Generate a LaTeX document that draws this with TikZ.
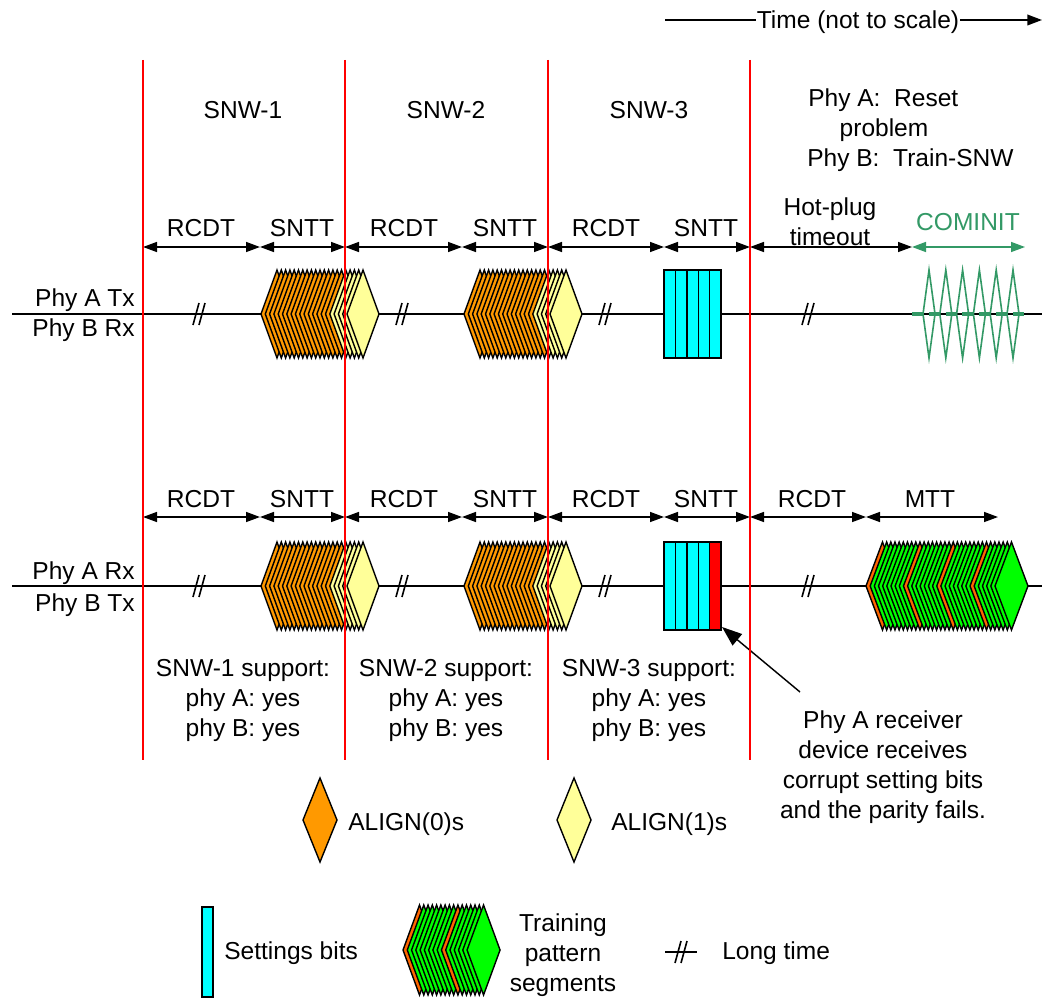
\documentclass[tikz,border=0pt]{standalone}
\usepackage{fontspec}
\setmainfont{Liberation Sans}
\usetikzlibrary{arrows.meta}
\definecolor{algo}{RGB}{255,153,0}
\definecolor{aly}{RGB}{255,255,153}
\definecolor{cinit}{RGB}{51,153,102}
\definecolor{trorange}{RGB}{255,102,0}
\definecolor{trgreen}{RGB}{0,255,0}
\definecolor{setcyan}{RGB}{0,255,255}
\newcommand{\dmd}[5]{\filldraw[shp,fill=#5] (#1,#2) -- ++(#3,-#4) -- ++(#3,#4) -- ++(-#3,#4) -- cycle;}
\newcommand{\alstack}[2]{%
  \foreach \i in {0,...,15}{\dmd{#1+4.3*\i}{#2}{16}{44}{algo}}
  \foreach \i in {16,...,20}{\dmd{#1+4.3*\i}{#2}{16}{44}{aly}}}
\newcommand{\trstack}[5]{%
  \foreach \i in {0,...,#3}{%
    \pgfmathtruncatemacro\isor{(\i==0)||(\i==9)||(\i==17)||(\i==25)}%
    \ifnum\isor=1 \def\cc{trorange}\else\def\cc{trgreen}\fi
    \dmd{#1+#4*\i}{#2}{16.5}{#5}{\cc}}}
\newcommand{\longtime}[2]{\draw[base] (#1-6,#2+11) -- (#1,#2-11); \draw[base] (#1,#2+11) -- (#1+6,#2-11);}
\begin{document}
\begin{tikzpicture}[x=0.75pt,y=-0.75pt,
  txt/.style={font=\fontsize{18.4}{22.5}\selectfont, inner sep=0pt},
  one/.style={txt, text height=13.2pt, text depth=0pt},
  multi/.style={txt, align=center},
  dim/.style={line width=1.1pt, {Triangle[length=10.5pt,width=7.5pt]}-{Triangle[length=10.5pt,width=7.5pt]}},
  sep/.style={red, line width=1.3pt},
  base/.style={line width=1.2pt},
  shp/.style={line width=1.05pt, line join=miter, miter limit=4}
]
\useasboundingbox[fill=white] (0,0) rectangle (1042,999);

% time arrow
\coordinate (t0) at (665,20);
\coordinate (t1) at (1042,20);
\draw[base, -{Triangle[length=11pt,width=8pt]}] (t0) -- (t1);
\node[one, fill=white, inner xsep=1pt] (time) at (858,20) {Time (not to scale)};

% baselines
\coordinate (b1l) at (12,314); \coordinate (b1r) at (1042,314);
\coordinate (b2l) at (12,586); \coordinate (b2r) at (1042,586);
\draw[base] (b1l) -- (b1r);
\draw[base] (b2l) -- (b2r);
\node[one, anchor=east] (patx) at (135,298) {Phy A Tx};
\node[one, anchor=east] (pbrx) at (135,328) {Phy B Rx};
\node[one, anchor=east] (parx) at (135,571) {Phy A Rx};
\node[one, anchor=east] (pbtx) at (135,603) {Phy B Tx};

% SNW titles
\node[one] (snw1) at (243,110) {SNW-1};
\node[one] (snw2) at (446,110) {SNW-2};
\node[one] (snw3) at (649,110) {SNW-3};
\node[one, anchor=west] (pa) at (808,98) {Phy A:\ \ Reset};
\node[one] (prob) at (884,128) {problem};
\node[one, anchor=west] (pb) at (807,158) {Phy B:\ \ Train-SNW};

% dimension arrows row 1
\foreach \n/\x in {a/143,b/260,c/345,d/462,e/548,f/664,g/750,h/912}{\coordinate (u\n) at (\x,247);}
\coordinate (ui) at (1025,247);
\draw[dim] (ua) -- (ub); \draw[dim] (ub) -- (uc); \draw[dim] (uc) -- (ud);
\draw[dim] (ud) -- (ue); \draw[dim] (ue) -- (uf); \draw[dim] (uf) -- (ug);
\draw[dim] (ug) -- (uh);
\draw[dim, cinit] (uh) -- (ui);
\node[one] at (201,228) {RCDT};
\node[one] at (302,228) {SNTT};
\node[one] at (404,228) {RCDT};
\node[one] at (505,228) {SNTT};
\node[one] at (606,228) {RCDT};
\node[one] at (706,228) {SNTT};
\node[one] at (830,207) {Hot-plug};
\node[one] at (830,237) {timeout};
\node[one, text=cinit] (cominit) at (968,222) {COMINIT};

% dimension arrows row 2
\foreach \n/\x in {a/143,b/260,c/345,d/462,e/548,f/664,g/750,h/866,i/998}{\coordinate (v\n) at (\x,517);}
\draw[dim] (va) -- (vb); \draw[dim] (vb) -- (vc); \draw[dim] (vc) -- (vd);
\draw[dim] (vd) -- (ve); \draw[dim] (ve) -- (vf); \draw[dim] (vf) -- (vg);
\draw[dim] (vg) -- (vh); \draw[dim] (vh) -- (vi);
\node[one] at (201,499) {RCDT};
\node[one] at (302,499) {SNTT};
\node[one] at (404,499) {RCDT};
\node[one] at (505,499) {SNTT};
\node[one] at (606,499) {RCDT};
\node[one] at (706,499) {SNTT};
\node[one] at (812,499) {RCDT};
\node[one] at (930,499) {MTT};

% long time marks
\foreach \x in {199,402,605,808}{\longtime{\x}{314}\longtime{\x}{586}}

% stacks
\alstack{261}{314}
\alstack{464}{314}
\alstack{261}{586}
\alstack{464}{586}

% settings bits
\foreach \i in {0,...,4}{\filldraw[shp, fill=setcyan] (664+11.4*\i,270) rectangle ++(11.4,88);}
\foreach \i in {0,...,3}{\filldraw[shp, fill=setcyan] (664+11.4*\i,542) rectangle ++(11.4,88);}
\filldraw[shp, fill=red] (709.6,542) rectangle (721,630);
\coordinate (corr) at (722,627);

% COMINIT
\foreach \i in {0,...,5}{\draw[cinit, line width=1.2pt, line join=miter] (929+16.8*\i,270) -- ++(6,44) -- ++(-6,44) -- ++(-6,-44) -- cycle;}
\coordinate (cb0) at (912,314); \coordinate (cb1) at (1027,314);
\draw[cinit, line width=3.6pt, dash pattern=on 8.6pt off 4pt] (cb0) -- (cb1);

% training pattern row 2
\trstack{866}{586}{31}{4.16}{44}

% support texts
\node[multi] (s1) at (243,700) {SNW-1 support:\\phy A: yes\\phy B: yes};
\node[multi] (s2) at (446,700) {SNW-2 support:\\phy A: yes\\phy B: yes};
\node[multi] (s3) at (649,700) {SNW-3 support:\\phy A: yes\\phy B: yes};
\node[multi] (recv) at (883,767) {Phy A receiver\\device receives\\corrupt setting bits\\and the parity fails.};
\coordinate (rtip) at (800,692);
\draw[line width=1.1pt, -{Triangle[length=15pt,width=11pt]}] (rtip) -- (corr);

% red separators
\foreach \n/\x in {1/143,2/345,3/548,4/750}{\coordinate (rt\n) at (\x,60); \coordinate (rb\n) at (\x,760); \draw[sep] (rt\n) -- (rb\n);}

% legend
\dmd{303}{820}{17}{42}{algo}
\node[one, anchor=west] (la0) at (348,822) {ALIGN(0)s};
\dmd{557}{820}{17}{42}{aly}
\node[one, anchor=west] (la1) at (611,822) {ALIGN(1)s};
\filldraw[shp, fill=setcyan] (202,907) rectangle (213,997);
\node[one, anchor=west] (lset) at (224,951) {Settings bits};
\trstack{403}{950}{15}{4.27}{45}
\node[multi] (ltr) at (563,955) {Training\\pattern\\segments};
\coordinate (lt0) at (665,952); \coordinate (lt1) at (697,952);
\draw[base] (lt0) -- (lt1);
\longtime{681}{952}
\node[one, anchor=west] (llong) at (722,951) {Long time};
\end{tikzpicture}
\end{document}
